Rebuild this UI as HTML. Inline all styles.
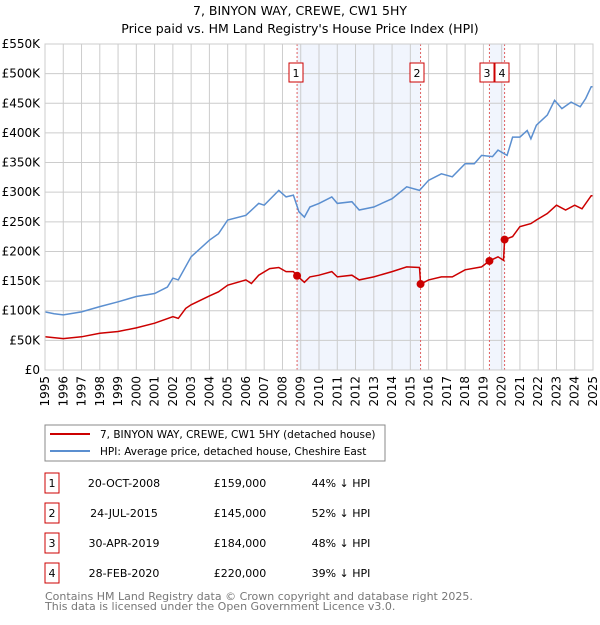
<!DOCTYPE html>
<html><head><meta charset="utf-8"><style>
body{margin:0;background:#fff;font-family:"Liberation Sans","DejaVu Sans",sans-serif}
svg text{font-family:"DejaVu Sans","Liberation Sans",sans-serif}
</style></head><body>
<svg id="c" width="600" height="620" xmlns="http://www.w3.org/2000/svg">
<text x="300" y="15" font-size="12.5" text-anchor="middle">7, BINYON WAY, CREWE, CW1 5HY</text>
<text x="300" y="33" font-size="12.5" text-anchor="middle">Price paid vs. HM Land Registry's House Price Index (HPI)</text>
<g id="plot"></g>
<rect x="45" y="425" width="340" height="36" fill="#fff" stroke="#888"/>
<line x1="50" y1="434" x2="90" y2="434" stroke="#cc0000" stroke-width="2"/>
<text x="100" y="438" font-size="10.5">7, BINYON WAY, CREWE, CW1 5HY (detached house)</text>
<line x1="50" y1="451" x2="90" y2="451" stroke="#5b8fd0" stroke-width="2"/>
<text x="100" y="455" font-size="10.5">HPI: Average price, detached house, Cheshire East</text>
<g id="table" font-size="11"></g>
<text x="45" y="600" font-size="11" fill="#777">Contains HM Land Registry data © Crown copyright and database right 2025.</text>
<text x="45" y="610" font-size="11" fill="#777">This data is licensed under the Open Government Licence v3.0.</text>
</svg>
<script>
const hpiYears=[1995,1995.5,1996,1997,1998,1999,2000,2001,2001.7,2002,2002.3,2003,2004,2004.5,2005,2006,2006.7,2007,2007.8,2008.2,2008.6,2008.9,2009.2,2009.5,2010,2010.7,2011,2011.8,2012.2,2013,2014,2014.8,2015.5,2016,2016.7,2017.3,2018,2018.5,2018.9,2019.5,2019.8,2020.3,2020.6,2021,2021.4,2021.6,2021.9,2022.5,2022.9,2023.3,2023.8,2024.3,2024.6,2024.9,2025];
const hpiValues=[98,95,93,98,107,115,124,129,140,155,152,191,219,230,253,261,281,278,303,292,295,267,258,275,281,292,281,284,270,275,289,309,303,320,331,326,348,348,362,360,371,362,393,393,404,390,413,430,455,441,452,444,458,478,478];
const propYears=[1995,1996,1997,1998,1999,2000,2001,2002,2002.3,2002.7,2003,2004,2004.5,2005,2006,2006.3,2006.7,2007.3,2007.8,2008.2,2008.6,2008.8,2009.2,2009.5,2010,2010.7,2011,2011.8,2012.2,2013,2014,2014.8,2015.5,2015.56,2016,2016.7,2017.3,2018,2018.9,2019.33,2019.8,2020.1,2020.16,2020.6,2021,2021.6,2021.9,2022.5,2023,2023.5,2024,2024.4,2024.9,2025];
const propValues=[56,53,56,62,65,71,79,90,87,104,110,125,132,143,152,146,160,171,173,166,166,159,148,157,160,166,157,160,152,157,166,174,173,145,152,157,157,169,174,184,191,185,220,225,242,247,253,264,278,270,278,272,294,294];
const saleYears=[2008.8,2015.56,2019.33,2020.16];
const saleValues=[159,145,184,220];
const saleLabels=["1","2","3","4"];
const saleDates=["20-OCT-2008","24-JUL-2015","30-APR-2019","28-FEB-2020"];
const salePrices=["£159,000","£145,000","£184,000","£220,000"];
const saleHpi=["44% ↓ HPI","52% ↓ HPI","48% ↓ HPI","39% ↓ HPI"];
const yTicks=[0,50,100,150,200,250,300,350,400,450,500,550];
const yTickLabels=["£0","£50K","£100K","£150K","£200K","£250K","£300K","£350K","£400K","£450K","£500K","£550K"];
const xTicks=[1995,1996,1997,1998,1999,2000,2001,2002,2003,2004,2005,2006,2007,2008,2009,2010,2011,2012,2013,2014,2015,2016,2017,2018,2019,2020,2021,2022,2023,2024,2025];

const X0=45,X1=593,Y0=370,Y1=44;
const xs=y=>X0+(y-1995)/30*(X1-X0);
const ys=v=>Y0-v/550*(Y0-Y1);
const NS="http://www.w3.org/2000/svg";
const plot=document.getElementById('plot');
function mk(t,a,p){const e=document.createElementNS(NS,t);for(const k in a)e.setAttribute(k,a[k]);(p||plot).appendChild(e);return e;}
[[0,1],[2,3]].forEach((pr,i)=>{
 const r=mk('rect',{x:xs(saleYears[pr[0]]),y:Y1,width:xs(saleYears[pr[1]])-xs(saleYears[pr[0]]),height:Y0-Y1,fill:'#eef3fc',opacity:0.8});
 
 
});
yTicks.forEach((v,i)=>{
 const l=mk('line',{x1:X0,x2:X1,y1:ys(v),y2:ys(v),stroke:'#ccc'});
 
 
 const t=mk('text',{x:40,y:ys(v)+4,'font-size':12,'text-anchor':'end'});
 t.textContent=yTickLabels[i];
 
 
});
xTicks.forEach(y=>{
 const l=mk('line',{x1:xs(y),x2:xs(y),y1:Y1,y2:Y0,stroke:'#ccc'});
 
 
 const t=mk('text',{x:0,y:0,'font-size':12,'text-anchor':'end',transform:`translate(${xs(y)+4},${Y0+6}) rotate(-90)`});
 t.textContent=y;
 
 
});
saleYears.forEach((y,i)=>{
 const l=mk('line',{x1:xs(y),x2:xs(y),y1:Y1,y2:Y0,stroke:'#e06060','stroke-dasharray':'2,2'});
 
 
});
function path(xa,va,col,name){
 const d=xa.map((x,i)=>(i?'L':'M')+xs(x).toFixed(1)+','+ys(va[i]).toFixed(1)).join('');
 const p=mk('path',{d:d,fill:'none',stroke:col,'stroke-width':1.5});
 
 
}
path(hpiYears,hpiValues,'#5b8fd0','hpi-line');
path(propYears,propValues,'#cc0000','property-line');
saleYears.forEach((y,i)=>{
 const c=mk('circle',{cx:xs(y),cy:ys(saleValues[i]),r:4,fill:'#cc0000'});
 
 
});
const bx=[289,410,480,495];
saleLabels.forEach((s,i)=>{
 const r=mk('rect',{x:bx[i],y:63,width:14,height:19,fill:'#fff',stroke:'#cc0000'});
 
 
 const t=mk('text',{x:bx[i]+7,y:77,'font-size':11,'text-anchor':'middle'});
 t.textContent=s;
 
 
});
mk('rect',{x:X0,y:Y1,width:X1-X0,height:Y0-Y1,fill:'none',stroke:'#ccc'});
const tb=document.getElementById('table');
saleLabels.forEach((s,i)=>{
 const y=483+i*30;
 const r=mk('rect',{x:45,y:y-10,width:14,height:20,fill:'#fff',stroke:'#cc0000'},tb);
 
 
 const cells=[[52,s,'middle'],[124,saleDates[i],'middle'],[240,salePrices[i],'middle'],[341,saleHpi[i],'middle']];
 cells.forEach(c=>{
  const t=mk('text',{x:c[0],y:y+4,'text-anchor':c[2]},tb);
  t.textContent=c[1];
  
  
 });
});
</script>
</body></html>
